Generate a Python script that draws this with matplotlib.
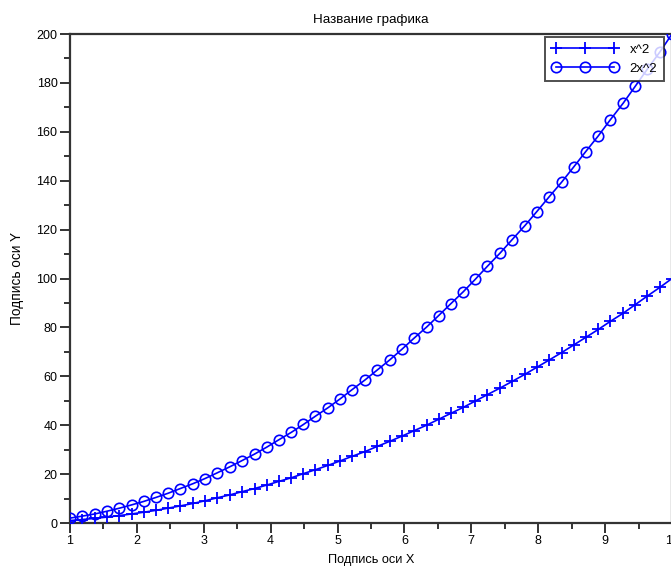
import matplotlib
matplotlib.use("Agg")
import matplotlib.pyplot as plt
from matplotlib.ticker import MultipleLocator

x_vals = [1.00, 1.18, 1.37, 1.55, 1.73, 1.92, 2.10, 2.29, 2.47, 2.65,
          2.84, 3.02, 3.20, 3.39, 3.57, 3.76, 3.94, 4.12, 4.31, 4.49,
          4.67, 4.86, 5.04, 5.22, 5.41, 5.59, 5.78, 5.96, 6.14, 6.33,
          6.51, 6.69, 6.88, 7.06, 7.24, 7.43, 7.61, 7.80, 7.98, 8.16,
          8.35, 8.53, 8.71, 8.90, 9.08, 9.27, 9.45, 9.63, 9.82, 10.00]
y_sq = [1.0, 1.4, 1.9, 2.4, 3.0, 3.7, 4.4, 5.2, 6.1, 7.0,
        8.0, 9.1, 10.3, 11.5, 12.8, 14.1, 15.5, 17.0, 18.5, 20.2,
        21.8, 23.6, 25.4, 27.3, 29.2, 31.3, 33.4, 35.5, 37.7, 40.0,
        42.4, 44.8, 47.3, 49.9, 52.5, 55.2, 57.9, 60.8, 63.7, 66.6,
        69.7, 72.8, 75.9, 79.2, 82.5, 85.8, 89.3, 92.8, 96.4, 100.0]
y_2sq = [2.0, 2.8, 3.7, 4.8, 6.0, 7.4, 8.8, 10.5, 12.2, 14.1,
         16.1, 18.2, 20.5, 23.0, 25.5, 28.2, 31.0, 34.0, 37.1, 40.3,
         43.7, 47.2, 50.8, 54.6, 58.5, 62.5, 66.7, 71.0, 75.5, 80.1,
         84.8, 89.6, 94.6, 99.7, 105.0, 110.4, 115.9, 121.6, 127.4, 133.3,
         139.4, 145.6, 151.9, 158.4, 165.0, 171.7, 178.6, 185.6, 192.7, 200.0]
labels = ["x^2", "2x^2"]
title = "Название графика"
xlabel = "Подпись оси X"
ylabel = "Подпись оси Y"

plt.rcParams['font.family'] = ['Liberation Sans', 'DejaVu Sans']

W, H = 671, 569
fig = plt.figure(figsize=(W / 100, H / 100), dpi=100)
left, right, top, bottom = 70, 672, 34, 523
ax = fig.add_axes([left / W, 1 - bottom / H, (right - left) / W, (bottom - top) / H])

blue = (0, 0, 1)
ax.plot(x_vals, y_sq, color=blue, lw=1.2, marker='+', ms=8, mew=1.3, label=labels[0], zorder=3)
ax.plot(x_vals, y_2sq, color=blue, lw=1.2, marker='o', ms=7.5, mew=1.2, mfc='none', label=labels[1], zorder=3)

ax.set_xlim(1, 10)
ax.set_ylim(0, 200)
ax.xaxis.set_major_locator(MultipleLocator(1))
ax.xaxis.set_minor_locator(MultipleLocator(0.5))
ax.yaxis.set_major_locator(MultipleLocator(20))
ax.yaxis.set_minor_locator(MultipleLocator(10))

for s in ['left', 'bottom', 'top', 'right']:
    ax.spines[s].set_color('#333333')
    ax.spines[s].set_linewidth(1.6)
ax.tick_params(which='major', direction='out', length=7, width=1.4, color='#333333',
               labelsize=9, pad=2, top=False, right=False)
ax.tick_params(which='minor', direction='out', length=4.5, width=1.4, color='#333333',
               top=False, right=False)

ax.set_title(title, fontsize=9.6, pad=8)
ax.set_xlabel(xlabel, fontsize=9.2, labelpad=5)
ax.set_ylabel(ylabel, fontsize=9.8, labelpad=9)

leg = ax.legend(loc='upper right', bbox_to_anchor=((664 - left) / (right - left), 1 - 3 / (bottom - top)),
                fontsize=9.5, frameon=True, fancybox=False, numpoints=3, handlelength=5.0,
                borderpad=0.5, labelspacing=0.5, handletextpad=0.9, borderaxespad=0)
leg.get_frame().set_edgecolor('#222222')
leg.get_frame().set_linewidth(1.4)

fig.savefig("out.png", dpi=100)
